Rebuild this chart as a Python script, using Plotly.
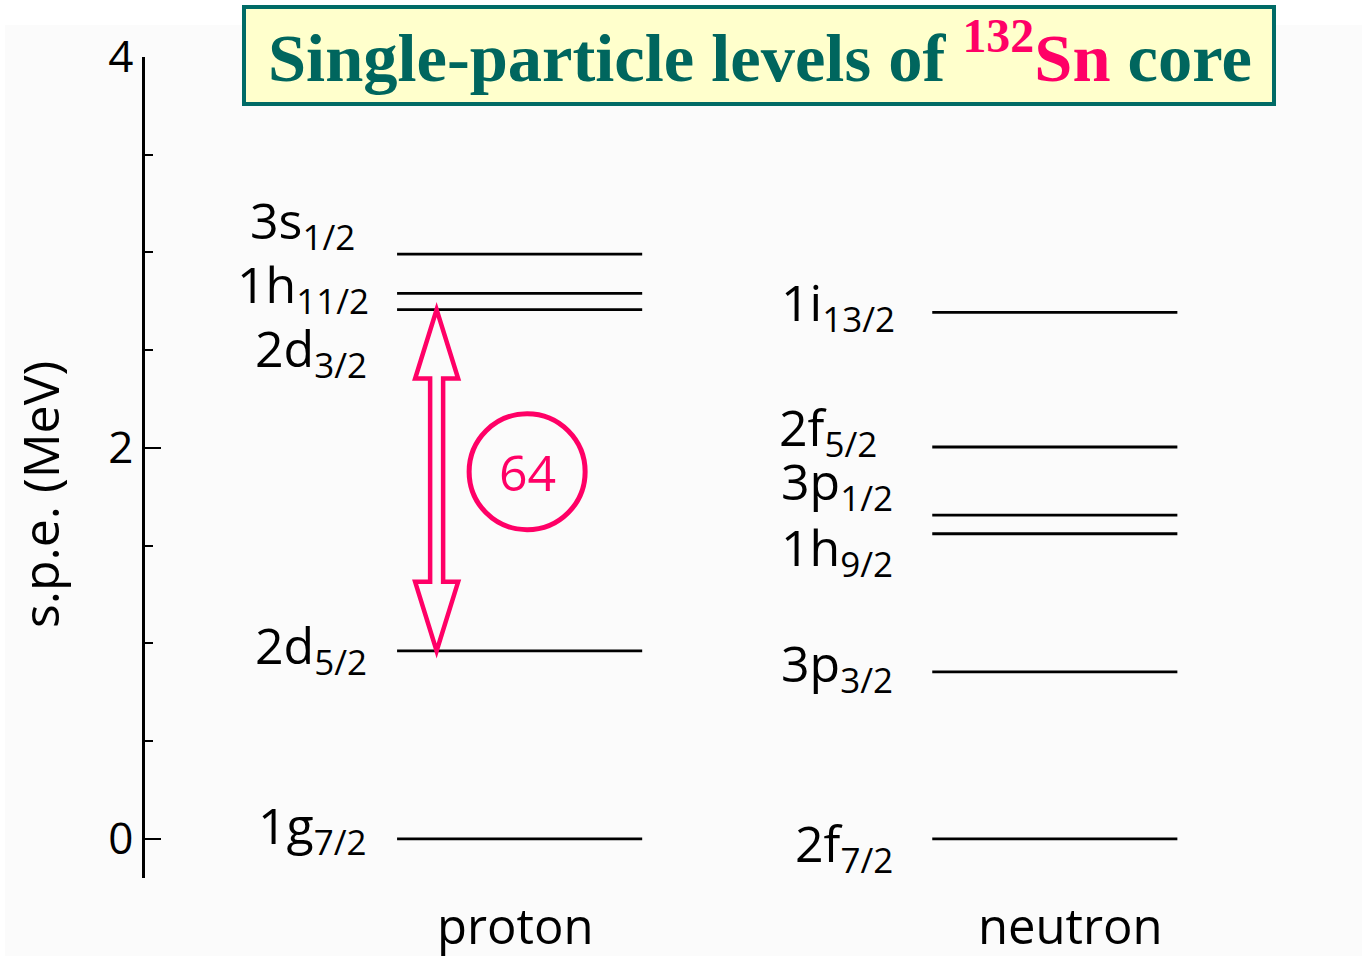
import plotly.graph_objects as go

# Single-particle energies (MeV) of the 132Sn core
proton_states = ["1g<sub>7/2</sub>", "2d<sub>5/2</sub>", "2d<sub>3/2</sub>",
                 "1h<sub>11/2</sub>", "3s<sub>1/2</sub>"]
proton_energy = [0.0, 0.962, 2.708, 2.791, 2.992]

neutron_states = ["2f<sub>7/2</sub>", "3p<sub>3/2</sub>", "1h<sub>9/2</sub>",
                  "3p<sub>1/2</sub>", "2f<sub>5/2</sub>", "1i<sub>13/2</sub>"]
neutron_energy = [0.0, 0.854, 1.561, 1.656, 2.005, 2.694]

columns = ["proton", "neutron"]
gap_label = "64"

labeled_ticks = [0, 2, 4]
unlabeled_ticks = [1, 3]

# label placement: (dx, dy) pixel offsets from the left end of each level
proton_label_offsets = [(-28, 11), (-28, 3), (-28, -41), (-26, 6), (-40, 31)]
neutron_label_offsets = [(-37, -7), (-37, 6), (-37, -16), (-37, 31), (-53, 17), (-35, 7)]

PINK = "#ff0066"
TEAL = "#00665e"
FONT = "Open Sans"

# figure geometry
W, H = 1362, 956
M_L, M_R, M_T, M_B = 145, 0, 57, 78
X_RANGE = [-0.700, 1.574]
Y_RANGE = [-0.2, 4.0]
plot_w = W - M_L - M_R
plot_h = H - M_T - M_B
px_x = plot_w / (X_RANGE[1] - X_RANGE[0])
px_y = plot_h / (Y_RANGE[1] - Y_RANGE[0])
HALF = 0.229  # half length of a level bar (x units)


def paper_x(px):
    return (px - M_L) / plot_w


def paper_y(py):
    return ((H - M_B) - py) / plot_h


fig = go.Figure()

annotations = []
for col, (states, energies, offsets) in enumerate(
        [(proton_states, proton_energy, proton_label_offsets),
         (neutron_states, neutron_energy, neutron_label_offsets)]):
    xs, ys = [], []
    for e in energies:
        xs += [col - HALF, col + HALF, None]
        ys += [e, e, None]
    fig.add_trace(go.Scatter(x=xs, y=ys, mode="lines",
                             line=dict(color="black", width=2.8),
                             hoverinfo="skip", showlegend=False))
    for name, e, (dx, dy) in zip(states, energies, offsets):
        annotations.append(dict(
            x=col - HALF, y=e, xref="x", yref="y", text=name,
            showarrow=False, xanchor="right", yanchor="middle",
            xshift=dx, yshift=dy,
            font=dict(family=FONT, size=50, color="black")))

# double-headed arrow spanning the proton 2d5/2 -> 2d3/2 gap
y_lo, y_hi = proton_energy[1], proton_energy[2]
xc = 0 - 83 / px_x
hw, sw, hl = 21.5 / px_x, 6.5 / px_x, 69 / px_y
pts = [(xc, y_hi), (xc + hw, y_hi - hl), (xc + sw, y_hi - hl), (xc + sw, y_lo + hl),
       (xc + hw, y_lo + hl), (xc, y_lo), (xc - hw, y_lo + hl), (xc - sw, y_lo + hl),
       (xc - sw, y_hi - hl), (xc - hw, y_hi - hl)]
path = "M " + " L ".join(f"{px},{py}" for px, py in pts) + " Z"
shapes = [
    dict(type="rect", xref="paper", yref="paper",
         x0=paper_x(5), x1=1.0, y0=paper_y(H), y1=paper_y(25),
         fillcolor="#fbfbfb", line=dict(width=0), layer="below"),
    dict(type="path", path=path, xref="x", yref="y",
         line=dict(color=PINK, width=4.5), fillcolor="rgba(0,0,0,0)"),
    # title frame
    dict(type="rect", xref="paper", yref="paper",
         x0=paper_x(244), x1=paper_x(1274), y0=paper_y(104), y1=paper_y(7),
         fillcolor="#ffffcc", line=dict(color="#006b66", width=4)),
]

# circled gap value
cx = 0 + 7.5 / px_x
cy = (y_lo + y_hi) / 2 + 8.5 / px_y
r = 58
shapes.append(dict(type="circle", xref="x", yref="y",
                   x0=cx - r / px_x, x1=cx + r / px_x,
                   y0=cy - r / px_y, y1=cy + r / px_y,
                   line=dict(color=PINK, width=5)))
annotations.append(dict(x=cx, y=cy, xref="x", yref="y", text=gap_label,
                        showarrow=False, font=dict(family=FONT, size=50, color=PINK)))

# column captions
for col, name, dx in zip([0, 1], columns, [-5, 16]):
    annotations.append(dict(x=col, y=paper_y(925), xref="x", yref="paper",
                            text=name, showarrow=False, xshift=dx, yanchor="middle",
                            font=dict(family=FONT, size=49, color="black")))

# y-axis caption
annotations.append(dict(x=paper_x(40), y=paper_y(495),
                        xref="paper", yref="paper", text="s.p.e. (MeV)",
                        textangle=-90, showarrow=False,
                        xanchor="center", yanchor="middle",
                        font=dict(family=FONT, size=50, color="black")))

# title
annotations.append(dict(
    x=paper_x(760), y=paper_y(52), xref="paper", yref="paper",
    text=("<b>Single-particle levels of "
          f"<span style='color:{PINK}'><sup>132</sup>Sn</span> core</b>"),
    showarrow=False, xanchor="center", yanchor="middle",
    font=dict(family="Liberation Serif", size=68.5, color=TEAL)))

common_y = dict(range=Y_RANGE, showgrid=False, zeroline=False, fixedrange=True)
tick_style = dict(ticks="inside", tickwidth=2, tickcolor="black")
fig.update_layout(
    width=W, height=H,
    margin=dict(l=M_L, r=M_R, t=M_T, b=M_B),
    paper_bgcolor="white", plot_bgcolor="rgba(0,0,0,0)",
    xaxis=dict(range=X_RANGE, visible=False, fixedrange=True),
    yaxis=dict(**common_y, **tick_style, showline=True, linecolor="black",
               linewidth=2.5, ticklen=16, tickvals=labeled_ticks,
               tickfont=dict(family=FONT, size=44, color="black"),
               minor=dict(ticks="inside", dtick=0.5, ticklen=8, tickwidth=2,
                          tickcolor="black")),
    # longer unlabeled ticks at odd MeV
    yaxis5=dict(**common_y, **tick_style, overlaying="y", side="left", anchor="x",
                showline=False, ticklen=16, tickvals=unlabeled_ticks,
                showticklabels=False),
    # extended tick at zero energy
    yaxis3=dict(**common_y, **tick_style, overlaying="y", side="left", anchor="x",
                showline=False, ticklen=24, tickvals=[0], showticklabels=False),
    # right-hand ticks
    yaxis2=dict(**common_y, **tick_style, overlaying="y", side="right", anchor="x",
                showline=False, ticklen=4, tickvals=labeled_ticks + unlabeled_ticks,
                showticklabels=False),
    yaxis4=dict(**common_y, **tick_style, overlaying="y", side="right", anchor="x",
                showline=False, ticklen=11, tickvals=[0], showticklabels=False),
    shapes=shapes, annotations=annotations,
)
fig.write_html("out.html")
